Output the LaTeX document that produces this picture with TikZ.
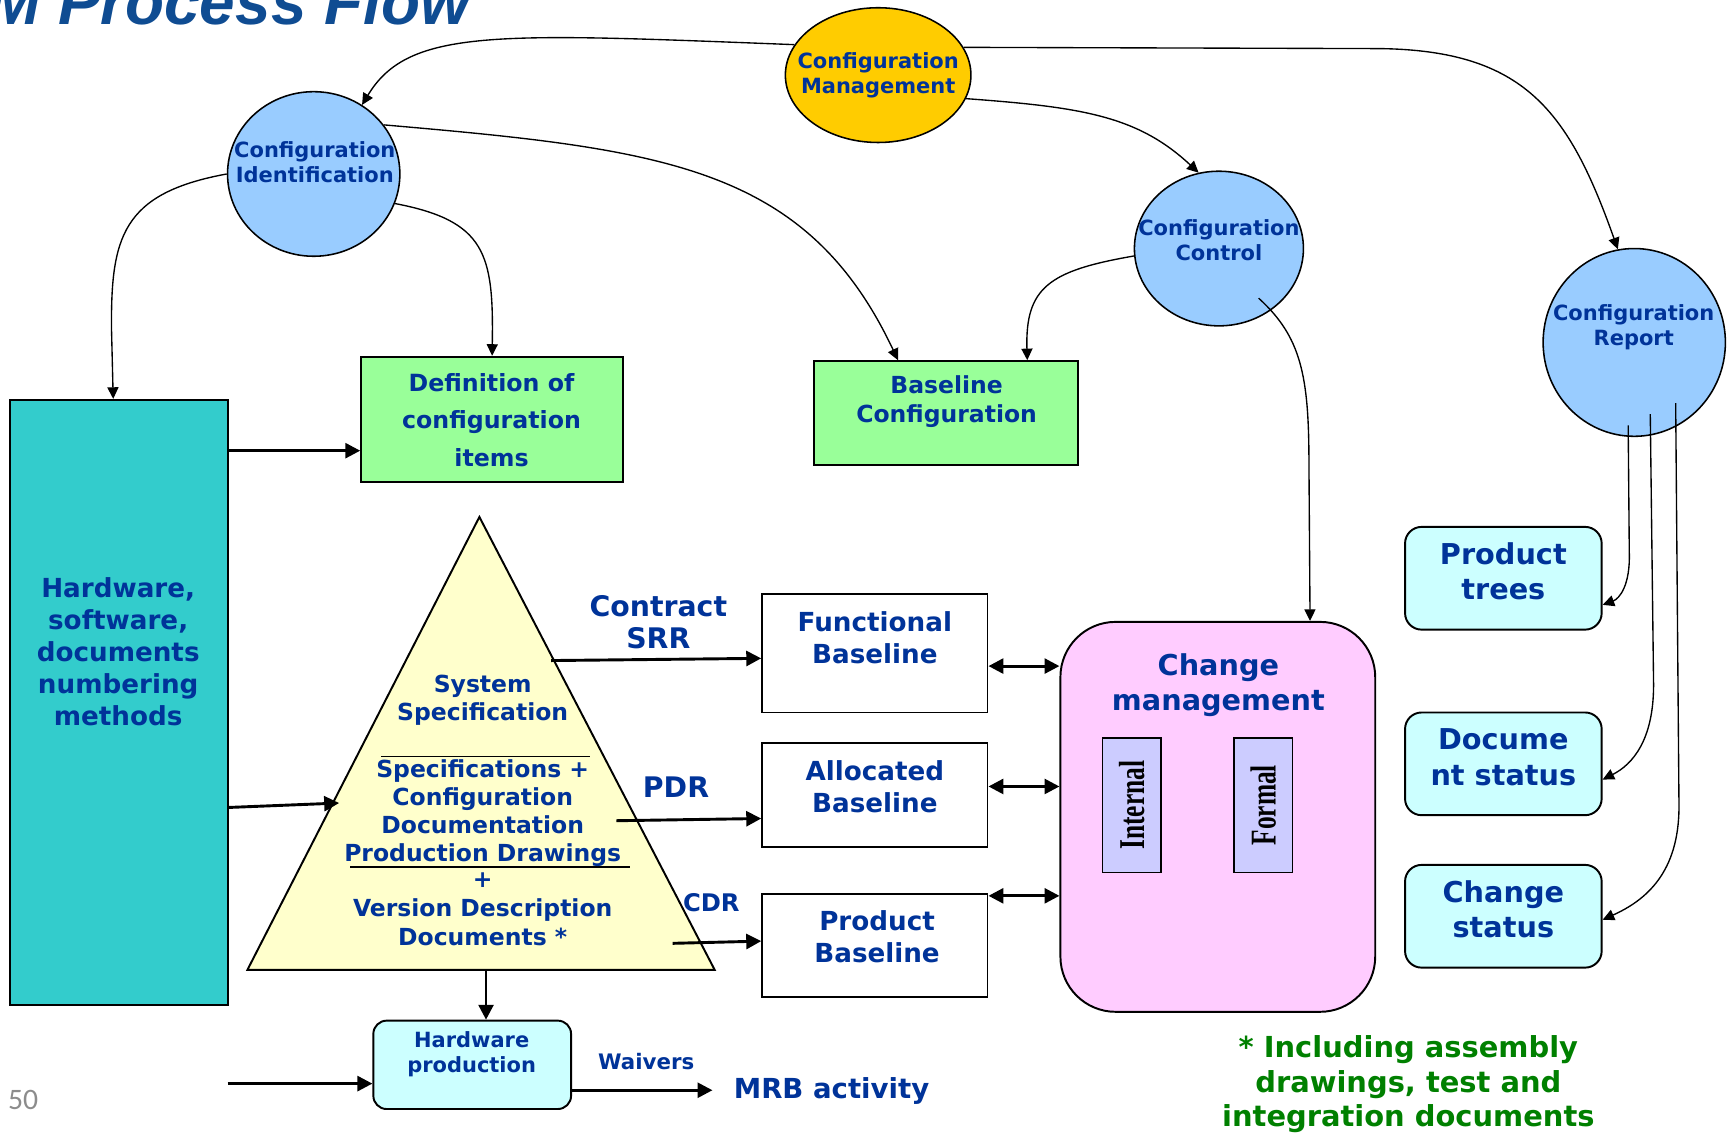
\documentclass[tikz,border=0pt]{standalone}
\usepackage{fontspec}
\setmainfont{DejaVu Sans}
\newfontfamily\serifcond[FakeStretch=0.7]{Liberation Serif}
\newfontfamily\titlefont{Liberation Sans}
\newfontfamily\numfont{Carlito}
\usetikzlibrary{arrows.meta,calc,shapes.geometric}

\definecolor{txtblue}{HTML}{003399}
\definecolor{titleblue}{HTML}{0F4C92}
\definecolor{cfgblue}{HTML}{99CCFF}
\definecolor{cfggold}{HTML}{FFCC00}
\definecolor{itemgreen}{HTML}{99FF99}
\definecolor{numcyan}{HTML}{33CCCC}
\definecolor{pyrayellow}{HTML}{FFFFCC}
\definecolor{chgpink}{HTML}{FFCCFF}
\definecolor{chglav}{HTML}{CCCCFF}
\definecolor{rptcyan}{HTML}{CCFFFF}
\definecolor{notegreen}{HTML}{008000}
\definecolor{pagegray}{HTML}{8C8C8C}

\newcommand\fsz[2]{\fontsize{#1}{#2}\selectfont}

\begin{document}
\begin{tikzpicture}[x=0.2mm,y=-0.2mm,
        cfgnode/.style={ellipse,draw,line width=0.8pt,inner sep=0pt},
        ctxt/.style={font=\bfseries\fsz{10.8}{13},text=txtblue,align=center,inner sep=0pt},
        basebox/.style={rectangle,draw,line width=1pt,inner sep=0pt},
        btxt/.style={font=\bfseries\fsz{13.5}{16.4},text=txtblue,align=center,inner sep=0pt},
        rptbox/.style={basebox,rounded corners=3mm,fill=rptcyan,minimum width=35.6mm,minimum height=18.6mm},
        rtxt/.style={font=\bfseries\fsz{14.8}{18.1},text=txtblue,align=center,inner sep=0pt},
        ptxt/.style={font=\bfseries\fsz{12.1}{14.5},text=txtblue,align=center,inner sep=0pt},
        curve/.style={line width=0.7pt,-{Triangle[length=2.1mm,width=2mm]}},
        flow/.style={line width=1.5pt,-{Triangle[length=2.7mm,width=2.7mm]}},
        twoway/.style={line width=1.5pt,{Triangle[length=2.7mm,width=2.7mm]}-{Triangle[length=2.7mm,width=2.7mm]}}
    ]
    \useasboundingbox (0,0) rectangle (1568,1026.6);

    % title, cut by the page edge
    \node[anchor=base west,inner sep=0pt,font=\titlefont\bfseries\itshape\fsz{32.9}{36},text=titleblue] (title) at (-12,22) {M Process Flow};

    % the four configuration bubbles
    \node[cfgnode,fill=cfggold,minimum width=33.6mm,minimum height=24.4mm] (cm) at (795,68) {};
    \node[ctxt] (cm-t) at (795,68.5) {Configuration\\Management};
    \node[cfgnode,fill=cfgblue,minimum width=31.2mm,minimum height=29.8mm] (ci) at (284,157.5) {};
    \node[ctxt] (ci-t) at (285,146.5) {Configuration\\Identification};
    \node[cfgnode,fill=cfgblue,minimum width=30.6mm,minimum height=28mm] (cc) at (1103.5,225) {};
    \node[ctxt] (cc-t) at (1103.5,217.5) {Configuration\\Control};
    \node[cfgnode,fill=cfgblue,minimum width=33mm,minimum height=34mm] (cr) at (1479.5,310) {};
    \node[ctxt] (cr-t) at (1479,296) {Configuration\\Report};

    % boxes
    \node[basebox,fill=numcyan,minimum width=39.4mm,minimum height=109.6mm] (hw) at (107.5,636) {};
    \node[btxt] (hw-t) at (107,590) {Hardware,\\software,\\documents\\numbering\\methods};
    \node[basebox,fill=itemgreen,minimum width=47.4mm,minimum height=22.6mm] (defn) at (445.5,379.5) {};
    \node[btxt,font=\bfseries\fsz{12.2}{19.3}] (defn-t) at (445,380) {Definition of\\configuration\\items};
    \node[basebox,fill=itemgreen,minimum width=47.8mm,minimum height=18.8mm] (bc) at (856.5,374) {};
    \node[btxt,font=\bfseries\fsz{12.1}{15.3}] (bc-t) at (857,363.5) {Baseline\\Configuration};

    \node[basebox,fill=white,minimum width=40.8mm,minimum height=21.4mm] (fb) at (792,591.5) {};
    \node[btxt] (fb-t) at (792,577) {Functional\\Baseline};
    \node[basebox,fill=white,minimum width=40.8mm,minimum height=18.8mm] (ab) at (792,720) {};
    \node[btxt] (ab-t) at (792,712.5) {Allocated\\Baseline};
    \node[basebox,fill=white,minimum width=40.8mm,minimum height=18.8mm] (pb) at (792,856) {};
    \node[btxt] (pb-t) at (794,848) {Product\\Baseline};

    \node[basebox,fill=chgpink,rounded corners=10mm,minimum width=57mm,minimum height=70.6mm] (chg) at (1102.5,739.5) {};
    \node[rtxt] (chg-t) at (1103,620) {Change\\management};
    \node[basebox,fill=chglav,line width=0.8pt,minimum width=10.6mm,minimum height=24.4mm] (int) at (1024.5,729) {};
    \node[rotate=90,inner sep=0pt,font=\serifcond\bfseries\fsz{18.7}{20}] (int-t) at (1024.5,729) {Internal};
    \node[basebox,fill=chglav,line width=0.8pt,minimum width=10.6mm,minimum height=24.4mm] (frm) at (1143.5,729) {};
    \node[rotate=90,inner sep=0pt,font=\serifcond\bfseries\fsz{18.7}{20}] (frm-t) at (1143.5,729) {Formal};

    \node[rptbox] (pt) at (1361,523.5) {};
    \node[rtxt] (pt-t) at (1361,517) {Product\\trees};
    \node[rptbox] (ds) at (1361,691.5) {};
    \node[rtxt] (ds-t) at (1361,685.5) {Docume\\nt status};
    \node[rptbox] (cs) at (1361,829.5) {};
    \node[rtxt] (cs-t) at (1361,823.5) {Change\\status};

    \node[basebox,fill=rptcyan,rounded corners=2.4mm,minimum width=35.8mm,minimum height=16mm] (hwp) at (427.5,964) {};
    \node[ctxt] (hwp-t) at (427,954.5) {Hardware\\production};

    % the pyramid
    \coordinate (tri-top) at (434,468);
    \coordinate (tri-bl) at (224,878);
    \coordinate (tri-br) at (647,878);
    \draw[line width=1pt,fill=pyrayellow] (tri-top) -- (tri-bl) -- (tri-br) -- cycle;
    \draw[line width=0.8pt] (345,685) -- (534,685);
    \draw[line width=0.8pt] (317,785) -- (570,785);
    \node[ptxt,font=\bfseries\fsz{12.1}{14.8}] (spec1) at (437,634) {System\\Specification};
    \node[ptxt] (spec2) at (437,736) {Specifications +\\Configuration\\Documentation\\Production Drawings};
    \node[ptxt,font=\bfseries\fsz{12.1}{15}] (spec3) at (437,823.5) {+\\Version Description\\Documents *};

    \coordinate (tri-in) at (307,727);
    \coordinate (srr-pt) at (499,598);
    \coordinate (pdr-pt) at (558,743);
    \coordinate (cdr-pt) at (609,854);
    \coordinate (tri-out) at (440,878);
    \coordinate (hwp-in) at (206,981);
    \coordinate (cc-out) at ($(cc.center)+(36,45)$);
    \coordinate (cr-a) at ($(cr.center)+(-5.5,75)$);
    \coordinate (cr-b) at ($(cr.center)+(14.5,65)$);
    \coordinate (cr-c) at ($(cr.center)+(37.5,55)$);

    % labels
    \node[font=\bfseries\fsz{14.6}{16.4},text=txtblue,align=center,inner sep=0pt] (srr) at (596,563.5) {Contract\\SRR};
    \node[font=\bfseries\fsz{14.6}{16.4},text=txtblue,inner sep=0pt] (pdr) at (612,713) {PDR};
    \node[font=\bfseries\fsz{12.5}{14},text=txtblue,inner sep=0pt] (cdr) at (644,817) {CDR};
    \node[font=\bfseries\fsz{11}{13},text=txtblue,inner sep=0pt] (waivers) at (585,961) {Waivers};
    \node[anchor=west,inner xsep=3.8mm,inner ysep=0pt,font=\bfseries\fsz{14.2}{16},text=txtblue] (mrb) at (645,988) {MRB activity};
    \node[font=\bfseries\fsz{14.9}{17.9},text=notegreen,align=center,inner sep=0pt] (note) at (1275,981.5) {* Including assembly\\drawings, test and\\integration documents};
    \node[font=\numfont\fsz{15.3}{18},text=pagegray,inner sep=0pt] (pageno) at (21,996) {50};

    % curved links
    \draw[curve] (cm.160) .. controls (450,30) and (370,25) .. (ci.55);
    \draw[curve] (cm.-15) .. controls (980,97) and (1030,105) .. (cc.105);
    \draw[curve] (cm.18) -- (1250,44) .. controls (1380,46) and (1420,100) .. (cr.100);
    \draw[curve] (ci.west) .. controls (110,175) and (100,215) .. (101,300) -- ([xshift=-1mm]hw.north);
    \draw[curve] (ci.-20) .. controls (440,200) and (447,230) .. (defn.north);
    \draw[curve] (ci.35) .. controls (600,135) and (730,150) .. ([xshift=-8.7mm]bc.north);
    \draw[curve] (cc.185) .. controls (950,245) and (928,260) .. ([xshift=14.7mm]bc.north);
    \draw[curve] (cc-out) .. controls (1178,305) and (1185,340) .. (1185,420) -- ([xshift=16.7mm]chg.north);
    \draw[curve] (cr-a) -- (1475,500) .. controls (1476,530) and (1466,542) .. (pt.-15);
    \draw[curve] (cr-b) -- (1497,620) .. controls (1497,670) and (1478,692) .. (ds.-9);
    \draw[curve] (cr-c) -- (1520,730) .. controls (1520,790) and (1490,815) .. (cs.-2);

    % straight flows
    \draw[flow] (hw.east |- 0,408) -- (defn.west |- 0,408);
    \draw[flow] (hw.east |- 0,731) -- (tri-in);
    \draw[flow] (srr-pt) -- (fb.west |- 0,596);
    \draw[flow] (pdr-pt) -- (ab.west |- 0,741);
    \draw[flow] (cdr-pt) -- (pb.west |- 0,852);
    \draw[twoway] (fb.east |- 0,603) -- (chg.west |- 0,603);
    \draw[twoway] (ab.east |- 0,712) -- (chg.west |- 0,712);
    \draw[twoway] (pb.east |- 0,811) -- (chg.west |- 0,811);
    \draw[flow] (tri-out) -- (hwp.north -| tri-out);
    \draw[flow] (hwp-in) -- (hwp.west |- hwp-in);
    \draw[flow] (hwp.east |- 0,987) -- (mrb.west |- 0,987);
\end{tikzpicture}
\end{document}
